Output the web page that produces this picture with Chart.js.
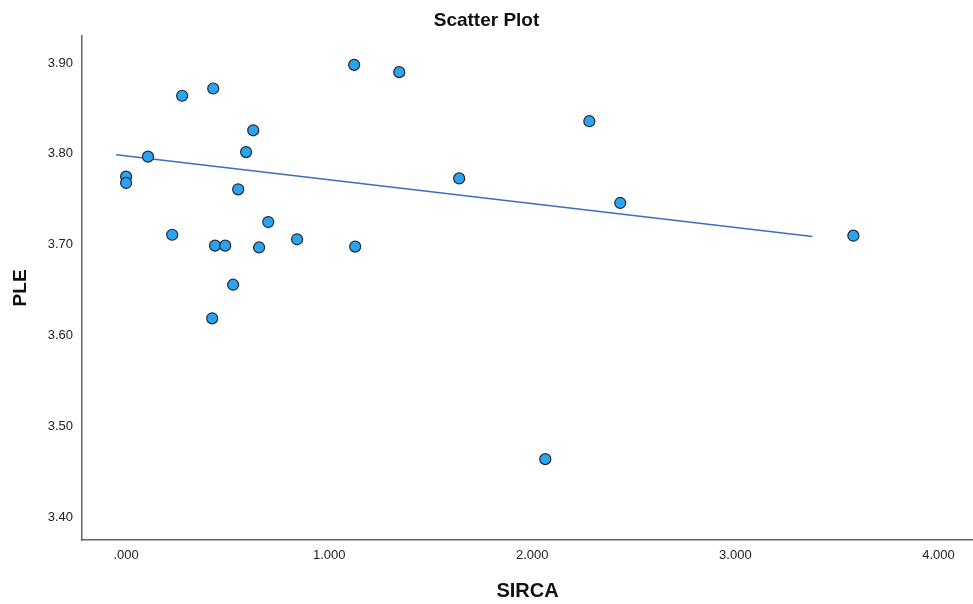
<!DOCTYPE html>
<html>
<head>
<meta charset="utf-8">
<script src="https://cdn.jsdelivr.net/npm/chart.js@4"></script>
<style>
  html, body { margin: 0; padding: 0; background: #fff; }
  #wrap { width: 973px; height: 604px; }
</style>
</head>
<body>
<div id="wrap"><canvas id="scatterChart" width="973" height="604"></canvas></div>
<script>
// values
const sirca = [0.000, 0.000, 0.108, 0.227, 0.276, 0.429, 0.424, 0.438, 0.488, 0.527, 0.552, 0.591,
  0.626, 0.655, 0.700, 0.842, 1.123, 1.128, 1.345, 1.640, 2.064, 2.281, 2.433, 3.581];
const ple = [3.775, 3.768, 3.797, 3.711, 3.864, 3.872, 3.619, 3.699, 3.699, 3.656, 3.761, 3.802,
  3.826, 3.697, 3.725, 3.706, 3.898, 3.698, 3.890, 3.773, 3.464, 3.836, 3.746, 3.710];
// fit line ends
const fitX = [-0.049, 3.379];
const fitY = [3.799, 3.709];
const xTicks = [0, 1, 2, 3, 4];
const yTicks = [3.4, 3.5, 3.6, 3.7, 3.8, 3.9];

const font = "'Liberation Sans', Arial, sans-serif";
Chart.defaults.font.family = font;
Chart.defaults.color = "#222";

document.addEventListener("DOMContentLoaded", () => {
  new Chart(document.getElementById("scatterChart"), {
    type: "scatter",
    data: {
      datasets: [{
        label: "PLE",
        data: sirca.map((x, i) => ({ x: x, y: ple[i] })),
        backgroundColor: "#2ba3f0",
        borderColor: "#1f2a33",
        borderWidth: 1.2,
        pointRadius: 5.5,
        order: 1
      }, {
        type: "line",
        label: "Fit",
        data: fitX.map((x, i) => ({ x: x, y: fitY[i] })),
        borderColor: "#3d6fb6",
        borderWidth: 1.5,
        pointRadius: 0,
        fill: false,
        order: 2
      }]
    },
    options: {
      responsive: false,
      animation: false,
      layout: { autoPadding: false, padding: { top: 0, right: 0, bottom: 0, left: 0 } },
      plugins: {
        legend: { display: false },
        tooltip: { enabled: false },
        title: {
          display: true,
          text: "Scatter Plot",
          color: "#111",
          font: { size: 19, weight: "bold" },
          padding: { top: 9, bottom: 4 }
        }
      },
      scales: {
        x: {
          type: "linear",
          min: -0.217,
          max: 4.17,
          afterBuildTicks: s => { s.ticks = xTicks.map(v => ({ value: v })); },
          afterFit: s => { s.height = 64; s.paddingRight = 0; s.paddingLeft = 0; },
          grid: { display: false, drawTicks: false },
          border: { display: true, color: "#666", width: 1.5 },
          ticks: {
            padding: 8,
            font: { size: 13 },
            callback: v => v === 0 ? ".000" : v.toFixed(3)
          },
          title: {
            display: true,
            text: "SIRCA",
            color: "#111",
            font: { size: 20, weight: "bold" },
            padding: { top: 0, bottom: 1 }
          }
        },
        y: {
          type: "linear",
          min: 3.375,
          max: 3.93,
          afterBuildTicks: s => { s.ticks = yTicks.map(v => ({ value: v })); },
          afterFit: s => { s.width = 82; },
          grid: { display: false, drawTicks: false },
          border: { display: true, color: "#666", width: 1.5 },
          ticks: {
            padding: 9,
            font: { size: 13 },
            callback: v => v.toFixed(2)
          },
          title: {
            display: true,
            text: "PLE",
            color: "#111",
            font: { size: 19, weight: "bold" },
            padding: { top: 9, bottom: 0 }
          }
        }
      }
    }
  });
});
</script>
</body>
</html>
